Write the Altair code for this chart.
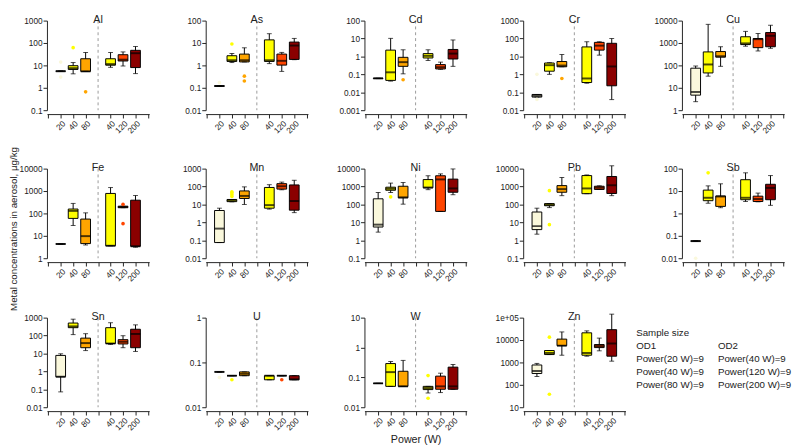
import altair as alt
import pandas as pd

ELEMENTS = ["Al", "As", "Cd", "Cr", "Cu", "Fe", "Mn", "Ni", "Pb", "Sb", "Sn", "U", "W", "Zn"]
GROUPS = ["OD1_20", "OD1_40", "OD1_80", "OD2_40", "OD2_120", "OD2_200"]
X_SLOTS = ["s_", "OD1_20", "OD1_40", "OD1_80", "gap_", "OD2_40", "OD2_120", "OD2_200", "e_"]
COLORS = ["#FAF8DC", "#FFFF00", "#FFA500", "#FFFF00", "#FF4500", "#8B0000"]

# per group: (lower whisker, Q1, median, Q3, upper whisker)
AL = [(5.5, 5.5, 5.5, 5.6, 5.6), (4.2, 6.6, 7.5, 9.7, 13.4), (5.4, 5.4, 5.4, 19.8, 37.7),
      (8.2, 10.2, 11.4, 19.8, 37.7), (9.4, 15.7, 18, 30, 40), (4.3, 8, 35, 47, 70)]
AS = [(0.115, 0.115, 0.12, 0.125, 0.125), (1.34, 1.5, 1.7, 2.7, 3.4), (1.43, 1.43, 1.7, 3.2, 6.1),
      (1.2, 1.5, 1.7, 13.8, 26), (0.54, 1.03, 1.6, 3.2, 3.8), (1.8, 1.85, 7.7, 11, 16)]
CD = [(0.058, 0.058, 0.06, 0.061, 0.061), (0.042, 0.046, 0.13, 2.25, 10.2), (0.107, 0.28, 0.48, 0.89, 2.35),
      (0.59, 0.82, 1.08, 1.44, 2.35), (0.19, 0.2, 0.25, 0.35, 0.48), (0.28, 0.72, 1.44, 2.45, 8.3)]
CR = [(0.054, 0.054, 0.064, 0.0755, 0.0755), (1.0, 1.5, 3.25, 4.3, 4.5), (2.65, 2.65, 3.1, 5.2, 12.8),
      (0.32, 0.35, 0.59, 34, 66), (11.8, 22.5, 40, 61, 66), (0.039, 0.23, 2.76, 54, 100)]
CU = [(2.4, 4.7, 6.5, 75, 94), (33, 46, 110, 400, 6800), (91, 233, 257, 415, 680),
      (720, 850, 960, 1900, 3300), (440, 620, 1480, 1580, 2650), (580, 680, 2100, 2930, 6200)]
FE = [(4.3, 4.3, 4.3, 4.35, 4.35), (29, 60, 130, 157, 280), (3.9, 4.5, 9.7, 56, 106),
      (3.6, 3.6, 3.6, 780, 1430), (180, 180, 195, 210, 210), (3.1, 3.4, 3.4, 390, 630)]
MN = [(0.075, 0.075, 0.45, 4.6, 6.2), (14, 14.4, 17, 19, 19), (10, 21.6, 30, 57, 96),
      (5.5, 6.2, 9.2, 89, 127), (66, 72, 104, 145, 177), (3.5, 4.8, 15.6, 123, 224)]
NI = [(2.86, 5.5, 7.5, 207, 465), (465, 620, 755, 920, 1560), (104, 234, 250, 1040, 1690),
      (670, 850, 885, 2450, 4000), (41, 41, 2500, 4000, 5100), (350, 480, 785, 2600, 9600)]
PB = [(2.2, 3.96, 6.2, 38, 62), (67, 85, 95, 112, 112), (310, 480, 720, 1130, 3200),
      (400, 400, 785, 4100, 4450), (690, 690, 860, 1040, 1100), (310, 410, 1180, 3640, 14400)]
SB = [(0.057, 0.057, 0.058, 0.06, 0.06), (2.85, 3.7, 5, 11, 17), (1.8, 2.06, 5.7, 6, 21),
      (3.4, 4.1, 5, 32, 65), (3.3, 3.4, 4.4, 5.9, 8.1), (2.3, 4.1, 13.8, 20, 49)]
SN = [(0.072, 0.5, 0.5, 7.8, 9.6), (113, 275, 325, 500, 820), (14.5, 21, 38, 72, 127),
      (32, 36, 36, 275, 520), (21, 34, 45, 59, 98), (13, 21, 123, 225, 395)]
U = [(0.0615, 0.0615, 0.0615, 0.0615, 0.0615), (0.0506, 0.0506, 0.0506, 0.0506, 0.0506),
     (0.0506, 0.0506, 0.0558, 0.0615, 0.0615), (0.041, 0.041, 0.0506, 0.0506, 0.0506),
     (0.0506, 0.0506, 0.0506, 0.0506, 0.0506), (0.041, 0.041, 0.042, 0.0506, 0.0506)]
W = [(0.063, 0.063, 0.063, 0.063, 0.063), (0.05, 0.05, 0.15, 0.29, 0.34), (0.05, 0.05, 0.05, 0.16, 0.37),
     (0.03, 0.039, 0.044, 0.05, 0.05), (0.031, 0.04, 0.05, 0.11, 0.138), (0.04, 0.04, 0.05, 0.22, 0.27)]
ZN = [(235, 320, 415, 770, 905), (2250, 2250, 2640, 3400, 3400), (2100, 5600, 5600, 11000, 23000),
      (1900, 2100, 2640, 21000, 25700), (3300, 4600, 5400, 6300, 12200), (1140, 1900, 7000, 29000, 143000)]

# outliers: (group, value)
AL_OUT = [("OD1_20", 14), ("OD1_20", 3), ("OD1_40", 62), ("OD1_80", 0.66)]
AS_OUT = [("OD1_20", 0.17), ("OD1_40", 9), ("OD1_80", 0.33), ("OD1_80", 0.2)]
CD_OUT = [("OD1_80", 0.05)]
CR_OUT = [("OD1_20", 1.0), ("OD1_20", 0.04), ("OD1_80", 0.59)]
CU_OUT = []
FE_OUT = [("OD2_120", 255), ("OD2_120", 35)]
MN_OUT = [("OD1_40", 28), ("OD1_40", 35), ("OD1_40", 44), ("OD1_40", 50)]
NI_OUT = [("OD1_40", 263)]
PB_OUT = [("OD1_40", 590), ("OD1_40", 7.5)]
SB_OUT = [("OD1_20", 0.01), ("OD1_40", 65)]
SN_OUT = []
U_OUT = [("OD1_20", 0.046), ("OD1_40", 0.041), ("OD2_120", 0.041)]
W_OUT = [("OD2_40", 0.115), ("OD2_40", 0.02)]
ZN_OUT = [("OD1_40", 13400), ("OD1_40", 38)]

# y-axis decades (low exponent, high exponent)
Y_EXP = [(-1, 3), (-2, 2), (-3, 2), (-2, 3), (0, 4), (0, 4), (-2, 3), (-1, 4), (-1, 4),
         (-2, 2), (-2, 3), (-2, 0), (-2, 1), (1, 5)]

STATS = [AL, AS, CD, CR, CU, FE, MN, NI, PB, SB, SN, U, W, ZN]
OUTS = [AL_OUT, AS_OUT, CD_OUT, CR_OUT, CU_OUT, FE_OUT, MN_OUT, NI_OUT, PB_OUT, SB_OUT,
        SN_OUT, U_OUT, W_OUT, ZN_OUT]

LEGEND_HEAD = "Sample size"
OD1_LINES = ["OD1", "Power(20 W)=9", "Power(40 W)=9", "Power(80 W)=9"]
OD2_LINES = ["OD2", "Power(40 W)=9", "Power(120 W)=9", "Power(200 W)=9"]

PW, PH = 105, 92
TXT = "#222222"


def panel(name, stats, outs, exps, xtitle=None):
    df = pd.DataFrame(stats, columns=["lo", "q1", "med", "q3", "hi"])
    df["grp"] = GROUPS
    ticks = [float(f"{10.0 ** e:.6g}") for e in range(exps[0], exps[1] + 1)]
    ysc = alt.Scale(type="log", domain=[ticks[0], ticks[-1]], nice=False)
    yax = alt.Axis(values=ticks, title=None, grid=False, tickSize=4, labelFontSize=8.5,
                   labelPadding=1, minExtent=29, maxExtent=29,
                   labelExpr="datum.value >= 99999 ? '1e+05' : format(datum.value, '~g')")

    def yenc(f):
        return alt.Y(f"{f}:Q", scale=ysc, axis=yax)

    xax_kwargs = dict(labelExpr="split(datum.value, '_')[1]", labelAngle=315, labelAlign="right",
                      labelBaseline="top", labelFontSize=8.5, labelOverlap=False, tickSize=4,
                      offset=4, labelPadding=1)
    if xtitle:
        xax = alt.Axis(title=xtitle, titleFontSize=11, titleFontWeight="normal", titlePadding=2,
                       titleColor=TXT, **xax_kwargs)
    else:
        xax = alt.Axis(title=None, **xax_kwargs)
    xenc = alt.X("grp:O", scale=alt.Scale(type="point", domain=X_SLOTS, padding=0.1), axis=xax)
    cenc = alt.Color("grp:N", scale=alt.Scale(domain=GROUPS, range=COLORS), legend=None)

    base = alt.Chart(df)
    gap = alt.Chart(pd.DataFrame({"grp": ["gap_"]})).mark_rule(
        strokeDash=[3, 3], color="#999999", strokeWidth=1).encode(x=xenc)
    whisk = base.mark_rule(color="black", strokeWidth=1).encode(x=xenc, y=yenc("lo"), y2="hi:Q")
    box = base.mark_bar(size=10, stroke="black", strokeWidth=1).encode(
        x=xenc, y=yenc("q1"), y2="q3:Q", color=cenc)
    med = base.mark_tick(color="black", thickness=2, size=10).encode(x=xenc, y=yenc("med"))
    cap_lo = base.mark_tick(color="black", thickness=1, size=5).encode(x=xenc, y=yenc("lo"))
    cap_hi = base.mark_tick(color="black", thickness=1, size=5).encode(x=xenc, y=yenc("hi"))
    layers = [gap, whisk, box, med, cap_lo, cap_hi]
    if outs:
        odf = pd.DataFrame(outs, columns=["grp", "v"])
        pts = alt.Chart(odf).mark_circle(size=14, opacity=1).encode(x=xenc, y=yenc("v"), color=cenc)
        layers.append(pts)
    return alt.layer(*layers).properties(
        width=PW, height=PH,
        title=alt.TitleParams(name, fontSize=11, fontWeight="normal", offset=-8, anchor="middle",
                              color=TXT))


panels = []
for i, el in enumerate(ELEMENTS):
    panels.append(panel(el, STATS[i], OUTS[i], Y_EXP[i], "Power (W)" if el == "W" else None))

leg_rows = [{"t": LEGEND_HEAD, "col": "c1", "row": 1}]
for k, t in enumerate(OD1_LINES):
    leg_rows.append({"t": t, "col": "c1", "row": 2 + k})
for k, t in enumerate(OD2_LINES):
    leg_rows.append({"t": t, "col": "c2", "row": 2 + k})
legend = alt.Chart(pd.DataFrame(leg_rows)).mark_text(
    align="left", baseline="middle", fontSize=10, color=TXT, dy=3).encode(
    x=alt.X("col:N", scale=alt.Scale(type="point", domain=["c1", "c2"], padding=0), axis=None),
    y=alt.Y("row:O", scale=alt.Scale(type="point", domain=list(range(7)), padding=0), axis=None),
    text="t:N").properties(width=84, height=80)

row1 = alt.hconcat(*panels[0:5], spacing=24)
row2 = alt.hconcat(*panels[5:10], spacing=24)
row3 = alt.hconcat(alt.hconcat(*panels[10:14], spacing=24), legend, spacing=6)

chart = alt.vconcat(row1, row2, row3, spacing=27).properties(
    padding=0,
    title=alt.TitleParams("Metal concentrations in aerosol, µg/kg", orient="left", anchor="middle",
                          fontSize=10, fontWeight="normal", offset=0, color=TXT)
).configure(font="Liberation Sans").configure_view(stroke=None).configure_axis(
    domainColor=TXT, tickColor=TXT, labelColor=TXT, domainWidth=1, tickWidth=1)

chart.save("out.html", embed_options={"renderer": "svg", "actions": False})
